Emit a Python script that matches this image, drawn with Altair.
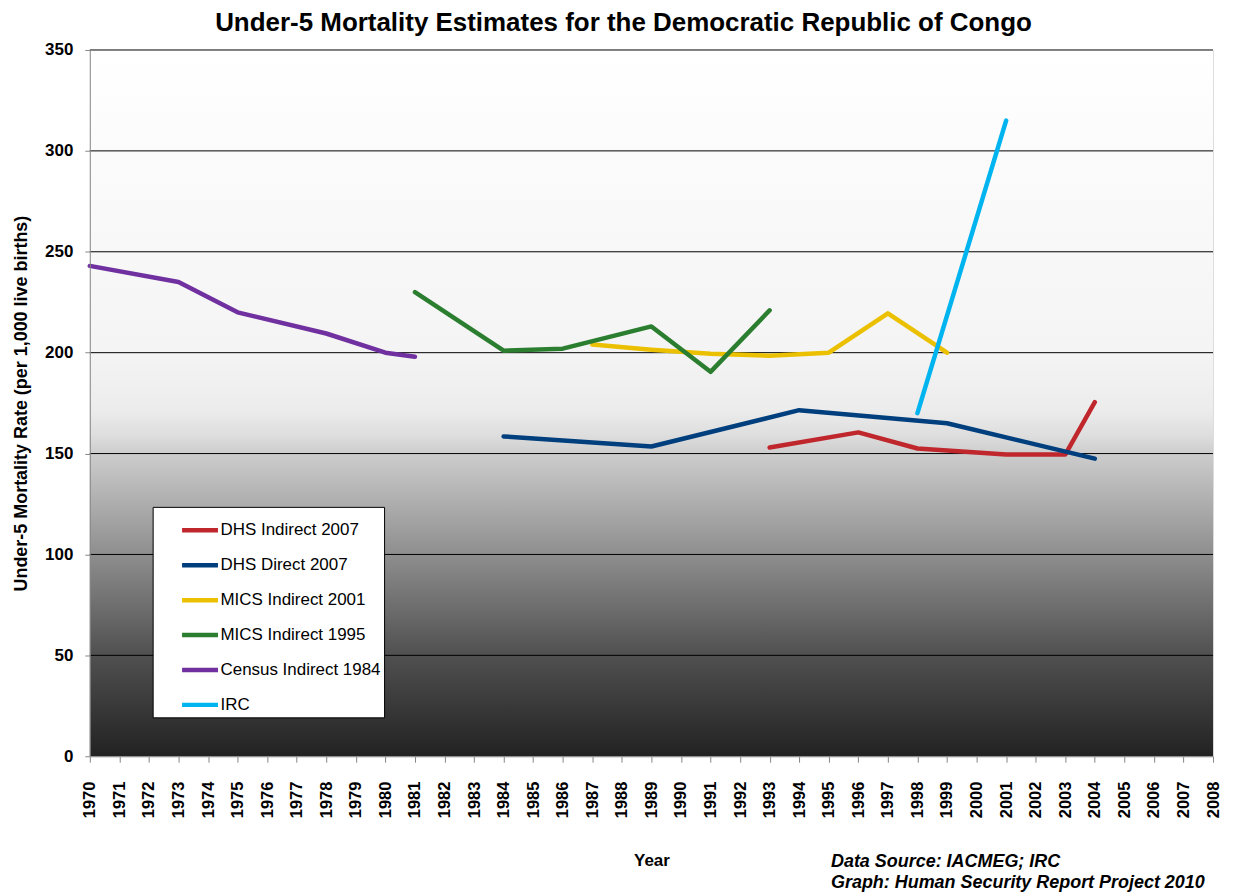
import altair as alt
import pandas as pd

# ---------------- data ----------------
years_all = list(range(1970, 2009))
y_ticks = [0, 50, 100, 150, 200, 250, 300, 350]
grid_values = [50, 100, 150, 200, 250, 300, 350]

series_names = ["DHS Indirect 2007", "DHS Direct 2007", "MICS Indirect 2001",
                "MICS Indirect 1995", "Census Indirect 1984", "IRC"]
series_colors = ["#C0272D", "#003F7D", "#EBC000", "#2B7E2F", "#7030A0", "#00B4EF"]

dhs_ind_years = [1993, 1996, 1998, 1999, 2001, 2003, 2004]
dhs_ind_vals = [153, 160.5, 152.5, 151.5, 149.5, 149.5, 175.5]

dhs_dir_years = [1984, 1989, 1994, 1999, 2004]
dhs_dir_vals = [158.5, 153.5, 171.5, 165, 147.5]

mics01_years = [1987, 1989, 1991, 1993, 1995, 1997, 1999]
mics01_vals = [204, 201.5, 199.5, 198.5, 200, 219.5, 200]

mics95_years = [1981, 1984, 1986, 1989, 1991, 1993]
mics95_vals = [230, 201, 202, 213, 190.5, 221]

census_years = [1970, 1973, 1975, 1978, 1980, 1981]
census_vals = [243, 235, 220, 209.5, 200, 198]

irc_years = [1998, 2001]
irc_vals = [170, 315]

title_text = "Under-5 Mortality Estimates for the Democratic Republic of Congo"
y_title = "Under-5 Mortality Rate (per 1,000 live births)"
x_title = "Year"
source_text = "Data Source: IACMEG; IRC\nGraph: Human Security Report Project 2010"

# ---------------- build table ----------------
all_series = [
    (series_names[0], dhs_ind_years, dhs_ind_vals),
    (series_names[1], dhs_dir_years, dhs_dir_vals),
    (series_names[2], mics01_years, mics01_vals),
    (series_names[3], mics95_years, mics95_vals),
    (series_names[4], census_years, census_vals),
    (series_names[5], irc_years, irc_vals),
]
rows = []
for order, (name, ys, vs) in enumerate(all_series):
    for yr, v in zip(ys, vs):
        rows.append({"series": name, "year": yr, "value": v, "ord": order})
df = pd.DataFrame(rows)

W, H = 1126, 708
FONT = "Liberation Sans"

y_scale = alt.Scale(domain=[0, 350], nice=False)
x_scale = alt.Scale(domain=[1970, 2008], nice=False, zero=False)

y_axis = alt.Axis(values=y_ticks, title=y_title, grid=False, zindex=1,
                  labelFontSize=17, labelFontWeight="bold", labelFont=FONT,
                  labelColor="black", labelPadding=12,
                  tickSize=5, tickColor="#888888", domainColor="#888888",
                  titleFontSize=18, titleFontWeight="bold", titleFont=FONT,
                  titleColor="black", titlePadding=14)

x_axis = alt.Axis(values=years_all, format="d", title=x_title, grid=False, zindex=1,
                  labelAngle=270, labelFontSize=16.5, labelFontWeight="bold",
                  labelFont=FONT, labelColor="black", labelPadding=19,
                  labelFlush=False, labelOverlap=False,
                  tickSize=6, tickColor="#888888", domainColor="#888888",
                  titleFontSize=17, titleFontWeight="bold", titleFont=FONT,
                  titleColor="black", titlePadding=35)

# background gradient
bg = alt.Chart(pd.DataFrame({"k": [0]})).mark_rect(
    fill=alt.Gradient(
        gradient="linear", x1=0, y1=0, x2=0, y2=1,
        stops=[
            alt.GradientStop(offset=0.0, color="#ffffff"),
            alt.GradientStop(offset=0.43, color="#f4f4f4"),
            alt.GradientStop(offset=0.51, color="#ececec"),
            alt.GradientStop(offset=0.545, color="#dedede"),
            alt.GradientStop(offset=0.575, color="#cbcbcb"),
            alt.GradientStop(offset=0.714, color="#8e8e8e"),
            alt.GradientStop(offset=0.857, color="#505050"),
            alt.GradientStop(offset=1.0, color="#222222"),
        ],
    )
).encode(x=alt.value(0), x2=alt.value(W), y=alt.value(0), y2=alt.value(H))

grid = alt.Chart(pd.DataFrame({"value": grid_values})).mark_rule(
    color="black", strokeWidth=1
).encode(y=alt.Y("value:Q", scale=y_scale, axis=y_axis))

lines = alt.Chart(df).mark_line(strokeWidth=4.5, strokeCap="round", strokeJoin="round").encode(
    x=alt.X("year:Q", scale=x_scale, axis=x_axis),
    y=alt.Y("value:Q", scale=y_scale, axis=y_axis),
    color=alt.Color("series:N",
                    scale=alt.Scale(domain=series_names, range=series_colors),
                    legend=alt.Legend(title=None, orient="none", legendX=63, legendY=458,
                                      symbolType="stroke", symbolStrokeWidth=4.5,
                                      symbolSize=1296, symbolOffset=24,
                                      labelFontSize=17, labelFont=FONT, labelColor="black",
                                      labelOffset=0, rowPadding=5, padding=3,
                                      fillColor="white", strokeColor="black",
                                      labelLimit=300)),
    detail="series:N",
    order=alt.Order("year:Q"),
)

source = alt.Chart(pd.DataFrame({"t": [source_text]})).mark_text(
    lineBreak="\n", align="left", baseline="alphabetic", fontStyle="italic",
    fontWeight="bold", fontSize=18, font=FONT, lineHeight=21, color="black"
).encode(text="t:N", x=alt.value(743), y=alt.value(819))

chart = alt.layer(bg, grid, lines, source).properties(
    width=W, height=H,
    title=alt.TitleParams(text=title_text, fontSize=26, font=FONT, fontWeight="bold",
                          anchor="middle", dx=-28, dy=9, offset=14, color="black"),
    autosize=alt.AutoSizeParams(type="none"),
    padding={"left": 82, "top": 41, "right": 12, "bottom": 139},
).configure_view(strokeWidth=0).configure(background="white")

chart.save("out.html", embed_options={"renderer": "svg", "actions": False})
